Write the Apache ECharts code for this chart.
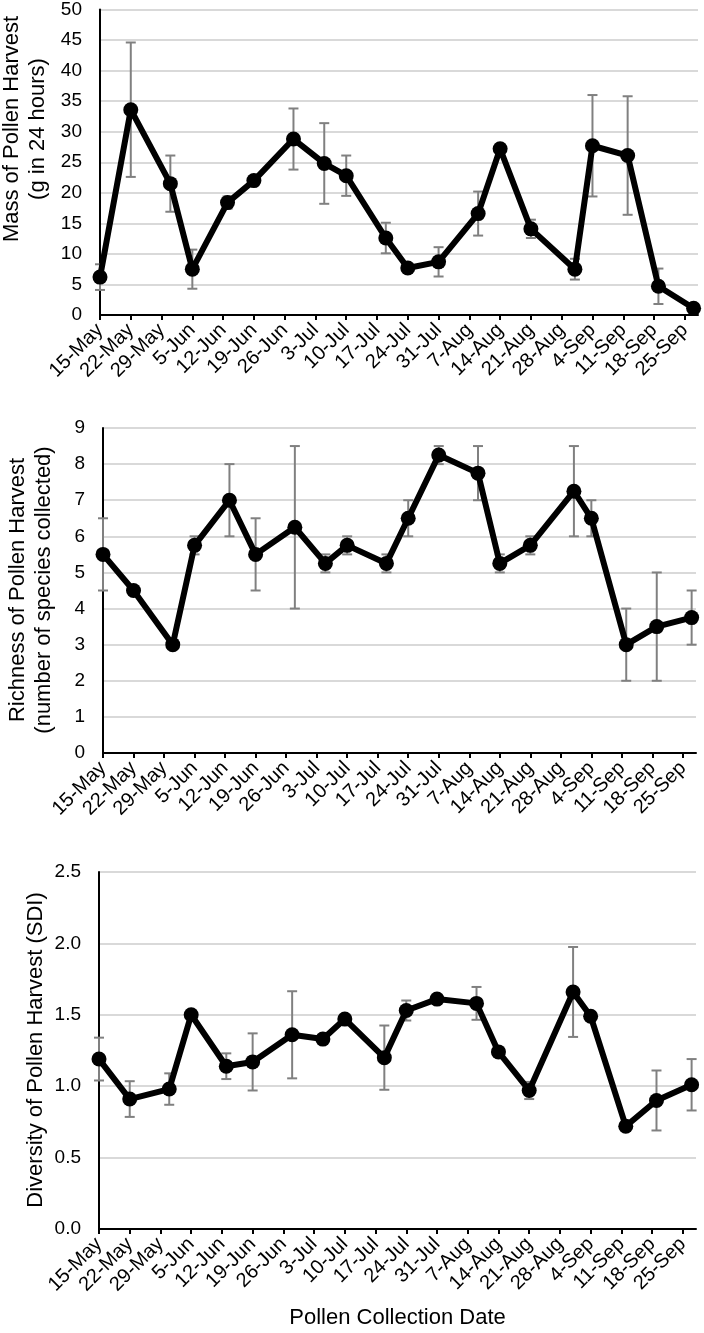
<!DOCTYPE html>
<html>
<head>
<meta charset="utf-8">
<script src="https://cdn.jsdelivr.net/npm/echarts@6/dist/echarts.min.js"></script>
<style>
html,body{margin:0;padding:0;background:#fff;}
#chart{width:704px;height:1333px;}
</style>
</head>
<body>
<div id="chart"></div>
<script>
// Weekly tick labels on the date axis (days since 15-May, one per 7 days)
const tickLabels = ['15-May','22-May','29-May','5-Jun','12-Jun','19-Jun','26-Jun','3-Jul','10-Jul','17-Jul','24-Jul','31-Jul','7-Aug','14-Aug','21-Aug','28-Aug','4-Sep','11-Sep','18-Sep','25-Sep'];
// Sampling dates, as days since 15-May
const sampleDays = [0,7,16,21,29,35,44,51,56,65,70,77,86,91,98,108,112,120,127,135];

// Panel 1: mass of pollen harvest (g in 24 h) and error
const massValues = [6.2,33.6,21.5,7.5,18.4,22.0,28.8,24.8,22.8,12.6,7.7,8.7,16.6,27.2,14.1,7.5,27.7,26.1,4.7,1.1];
const massErr    = [2.1,11.0,4.6,3.2,1.0,0,5.0,6.6,3.3,2.5,0,2.4,3.6,0,1.5,1.7,8.3,9.7,2.9,0];

// Panel 2: richness (number of species collected) and error
const richValues = [5.5,4.5,3.0,5.75,7.0,5.5,6.25,5.25,5.75,5.25,6.5,8.25,7.75,5.25,5.75,7.25,6.5,3.0,3.5,3.75];
const richErr    = [1.0,0,0,0.25,1.0,1.0,2.25,0.25,0.25,0.25,0.5,0.25,0.75,0.25,0.25,1.25,0.5,1.0,1.5,0.75];

// Panel 3: diversity (SDI) and error
const divValues = [1.19,0.91,0.98,1.50,1.14,1.17,1.36,1.33,1.47,1.20,1.53,1.61,1.58,1.24,0.97,1.66,1.49,0.72,0.90,1.01];
const divErr    = [0.15,0.125,0.11,0,0.09,0.2,0.305,0.03,0,0.225,0.07,0,0.115,0,0.06,0.315,0,0.02,0.21,0.18];

const yTitles = [
  ['Mass of Pollen Harvest','(g in 24 hours)'],
  ['Richness of Pollen Harvest','(number of species collected)'],
  ['Diversity of Pollen Harvest (SDI)']
];
const xTitle = 'Pollen Collection Date';

const FONT = '"Liberation Sans", Arial, sans-serif';
const tickDays = tickLabels.map((_, i) => i * 7);

const grids = [
  {left: 100, top: 9, width: 598, height: 306},
  {left: 103, top: 428, width: 593, height: 325},
  {left: 99, top: 872, width: 597, height: 357}
];
const yCfg = [
  {min: 0, max: 50, interval: 5, fmt: v => String(v)},
  {min: 0, max: 9, interval: 1, fmt: v => String(v)},
  {min: 0, max: 2.5, interval: 0.5, fmt: v => v.toFixed(1)}
];
const panels = [[massValues, massErr],[richValues, richErr],[divValues, divErr]];

const xAxes = grids.map((g, i) => ({
  type: 'value', gridIndex: i, min: 0, max: 136,
  axisLine: {show: true, lineStyle: {color: '#000', width: 2}},
  axisTick: {show: true, customValues: tickDays, length: 5, lineStyle: {color: '#000', width: 2}},
  axisLabel: {
    customValues: tickDays, rotate: 45, margin: 12, color: '#000',
    fontFamily: FONT, fontSize: 20,
    formatter: v => tickLabels[Math.round(v / 7)] || ''
  },
  splitLine: {show: false},
  name: i === 2 ? xTitle : '', nameLocation: 'middle', nameGap: 78,
  nameTextStyle: {fontFamily: FONT, fontSize: 22, color: '#000', verticalAlign: 'top'}
}));

const yAxes = grids.map((g, i) => ({
  type: 'value', gridIndex: i, min: yCfg[i].min, max: yCfg[i].max, interval: yCfg[i].interval,
  axisLine: {show: true, lineStyle: {color: '#000', width: 2}},
  axisTick: {show: false},
  axisLabel: {margin: 18, color: '#000', fontFamily: FONT, fontSize: 19, formatter: yCfg[i].fmt},
  splitLine: {show: true, lineStyle: {color: '#d9d9d9', width: 2}}
}));

const series = [];
panels.forEach(([vals, errs], i) => {
  series.push({
    type: 'custom', xAxisIndex: i, yAxisIndex: i, z: 1,
    data: sampleDays.map((d, k) => [d, vals[k], errs[k]]),
    encode: {x: 0, y: 1},
    renderItem: (params, api) => {
      const x = api.value(0), v = api.value(1), e = api.value(2);
      if (!e) return null;
      const hi = api.coord([x, v + e]);
      const lo = api.coord([x, v - e]);
      const cw = 5;
      const st = {stroke: '#808080', lineWidth: 2};
      return {
        type: 'group',
        children: [
          {type: 'line', shape: {x1: hi[0], y1: hi[1], x2: lo[0], y2: lo[1]}, style: st},
          {type: 'line', shape: {x1: hi[0] - cw, y1: hi[1], x2: hi[0] + cw, y2: hi[1]}, style: st},
          {type: 'line', shape: {x1: lo[0] - cw, y1: lo[1], x2: lo[0] + cw, y2: lo[1]}, style: st}
        ]
      };
    },
    silent: true
  });
  series.push({
    type: 'line', xAxisIndex: i, yAxisIndex: i, z: 3,
    data: sampleDays.map((d, k) => [d, vals[k]]),
    symbol: 'circle', symbolSize: 15,
    itemStyle: {color: '#000'},
    lineStyle: {color: '#000', width: 6},
    clip: false, animation: false, silent: true
  });
});

const titleCenters = [[25, 129], [31, 590], [36, 1050]];
const graphic = yTitles.map((lines, i) => ({
  type: 'text',
  x: titleCenters[i][0], y: titleCenters[i][1],
  rotation: Math.PI / 2,
  style: {
    text: lines.join('\n'), font: '22px ' + FONT, fill: '#000',
    align: 'center', verticalAlign: 'middle', lineHeight: 26
  }
}));

const chart = echarts.init(document.getElementById('chart'), null, {renderer: 'canvas'});
chart.setOption({
  animation: false,
  backgroundColor: '#fff',
  grid: grids,
  xAxis: xAxes,
  yAxis: yAxes,
  series: series,
  graphic: graphic
});
</script>
</body>
</html>
